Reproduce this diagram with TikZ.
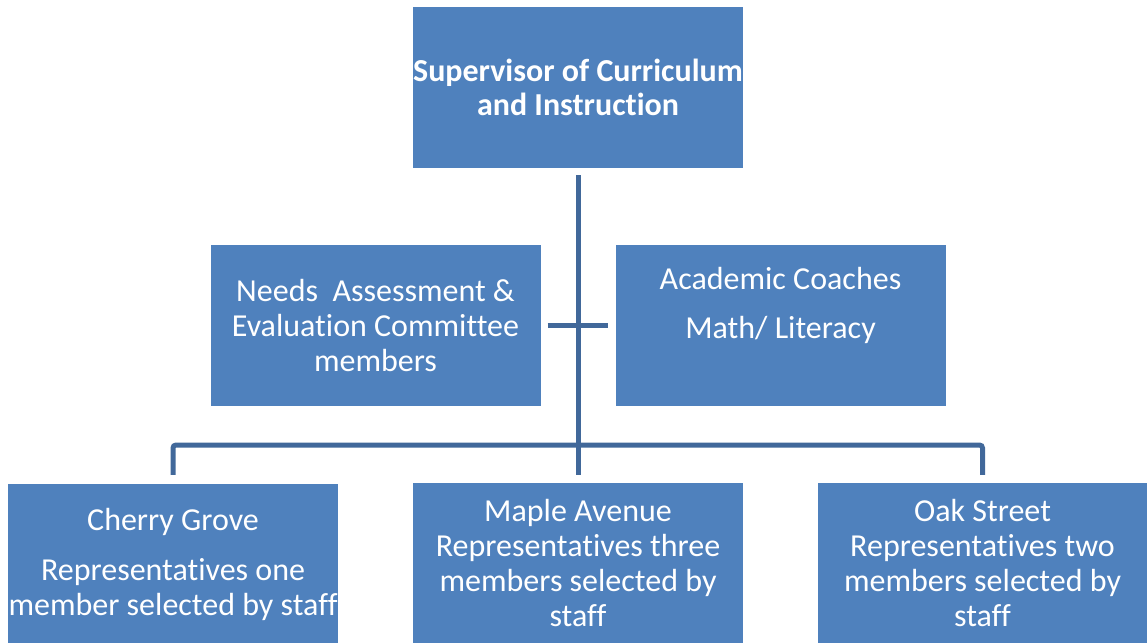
\documentclass[tikz,border=0pt]{standalone}
\usepackage{fontspec}
\setmainfont{Carlito}[RawFeature={-liga;-clig;-dlig}]
\usepackage{xcolor}
\definecolor{boxblue}{HTML}{4F81BD}
\definecolor{lineblue}{HTML}{41689A}
\usetikzlibrary{calc}

\begin{document}
\begin{tikzpicture}[x=1pt,y=-1pt,
    unit/.style={fill=boxblue, text=white, inner sep=0pt, align=center,
      minimum width=330pt, minimum height=161pt, font=\fontsize{32}{35}\selectfont},
    link/.style={lineblue, line width=5pt}]
    \useasboundingbox (0,0) rectangle (1147,642);
    \node[unit, font=\fontsize{32}{34}\selectfont\bfseries] (sup) at (578,87.5) {Supervisor of Curriculum\\and Instruction};
    \node[unit] (needs) at (375.5,325.5) {Needs\ \ Assessment \&\\Evaluation Committee\\members};
    \node[unit, text depth=46pt] (coach) at (780.5,325.5) {Academic Coaches\\[14pt]Math/ Literacy};
    \node[unit, minimum height=160pt] (cherry) at (173,564) {Cherry Grove\\[15pt]Representatives one\\member selected by staff};
    \node[unit, minimum height=160pt] (maple) at (578,563) {Maple Avenue\\Representatives three\\members selected by\\staff};
    \node[unit, minimum height=160pt] (oak) at (982.5,563) {Oak Street\\Representatives two\\members selected by\\staff};
    % connectors
    \coordinate (bus) at (578,445);
    \draw[link] ([yshift=-7pt]sup.south) -- ([yshift=8pt]maple.north);
    \draw[link] ([xshift=7pt]needs.east) -- ([xshift=-7pt]coach.west);
    \draw[link, rounded corners=3pt] ([yshift=9pt]cherry.north) |- (bus) -| ([yshift=8pt]oak.north);
\end{tikzpicture}
\end{document}
